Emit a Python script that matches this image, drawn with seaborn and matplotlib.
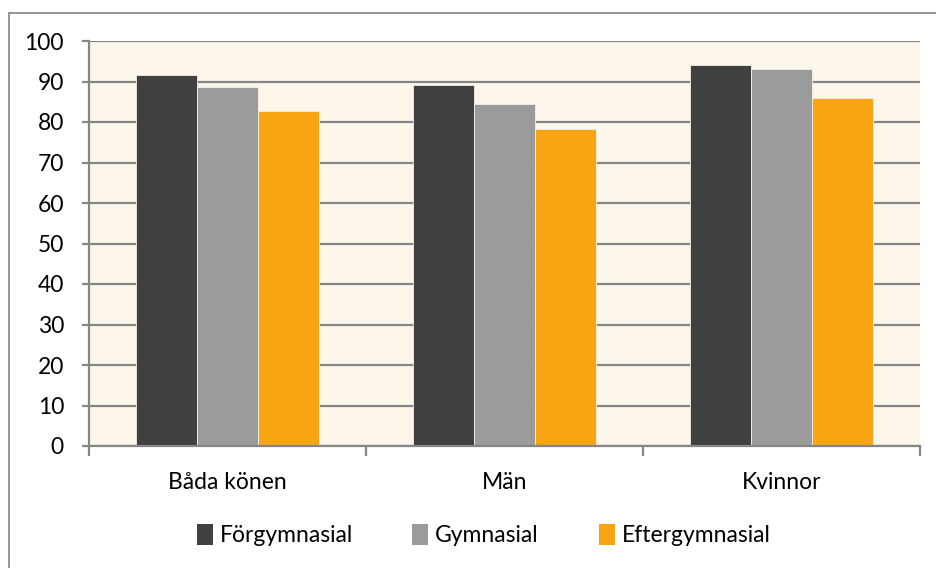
import pandas as pd
import numpy as np
import matplotlib.pyplot as plt
import seaborn as sns
from matplotlib.lines import Line2D
from matplotlib.patches import Patch

groups = ['Båda könen', 'Män', 'Kvinnor']
forgymnasial = [91.7, 89.2, 94.1]
gymnasial = [88.7, 84.4, 93.1]
eftergymnasial = [82.6, 78.2, 85.9]
series = ['Förgymnasial', 'Gymnasial', 'Eftergymnasial']
colors = ['#404040', '#9b9b9b', '#f9a513']
yticks = list(range(0, 101, 10))

df = pd.DataFrame({'grupp': groups * 3,
                   'utbildning': [s for s in series for _ in groups],
                   'andel': forgymnasial + gymnasial + eftergymnasial})

sns.set_style('white')
plt.rcParams['font.family'] = ['Lato', 'DejaVu Sans']
grid_c = '#868686'

fig = plt.figure(figsize=(9.37, 5.68), dpi=100)
ax = fig.add_axes([89/937, 1-446/568, (920-89)/937, (446-41)/568])
ax.set_facecolor('#fdf6eb')
sns.barplot(data=df, x='grupp', y='andel', hue='utbildning', hue_order=series,
            palette=colors, width=0.66, gap=0, saturation=1, ax=ax,
            edgecolor='#f4efe6', linewidth=0.6, legend=False)

ax.set_ylim(0, 100)
ax.set_yticks(yticks)
ax.set_xlim(-0.5, 2.5)
ax.yaxis.grid(True, color=grid_c, linewidth=1.6)
ax.set_axisbelow(True)
ax.set_xlabel('')
ax.set_ylabel('')
for s in ['top', 'right']:
    ax.spines[s].set_visible(False)
for s in ['left', 'bottom']:
    ax.spines[s].set_color(grid_c)
    ax.spines[s].set_linewidth(1.6)
ax.tick_params(axis='y', left=True, length=5, width=1.6, color=grid_c,
               labelsize=16.5, pad=13, labelcolor='black')
ax.tick_params(axis='x', bottom=False, labelsize=16.5, pad=15, labelcolor='black')
ax.set_xticks([0, 1, 2])
ax.set_xticklabels(groups)
ax.set_xticks([-0.5, 0.5, 1.5, 2.5], minor=True)
ax.tick_params(axis='x', which='minor', bottom=True, length=7, width=1.6,
               color=grid_c)

handles = [Patch(facecolor=c, edgecolor='none') for c in colors]
fig.legend(handles, series, loc='center', bbox_to_anchor=(0.516, 1-535/568),
           ncol=3, frameon=False, fontsize=16.5, handlelength=0.7,
           handleheight=1.05, handletextpad=0.3, columnspacing=2.6,
           labelcolor='black')

# outer chart border
fig.add_artist(Line2D([9/937, 1], [1-13/568, 1-13/568], color='#8c8c8c', lw=1.3))
fig.add_artist(Line2D([9/937, 9/937], [0, 1-13/568], color='#8c8c8c', lw=1.3))

fig.savefig('out.png', dpi=100)
